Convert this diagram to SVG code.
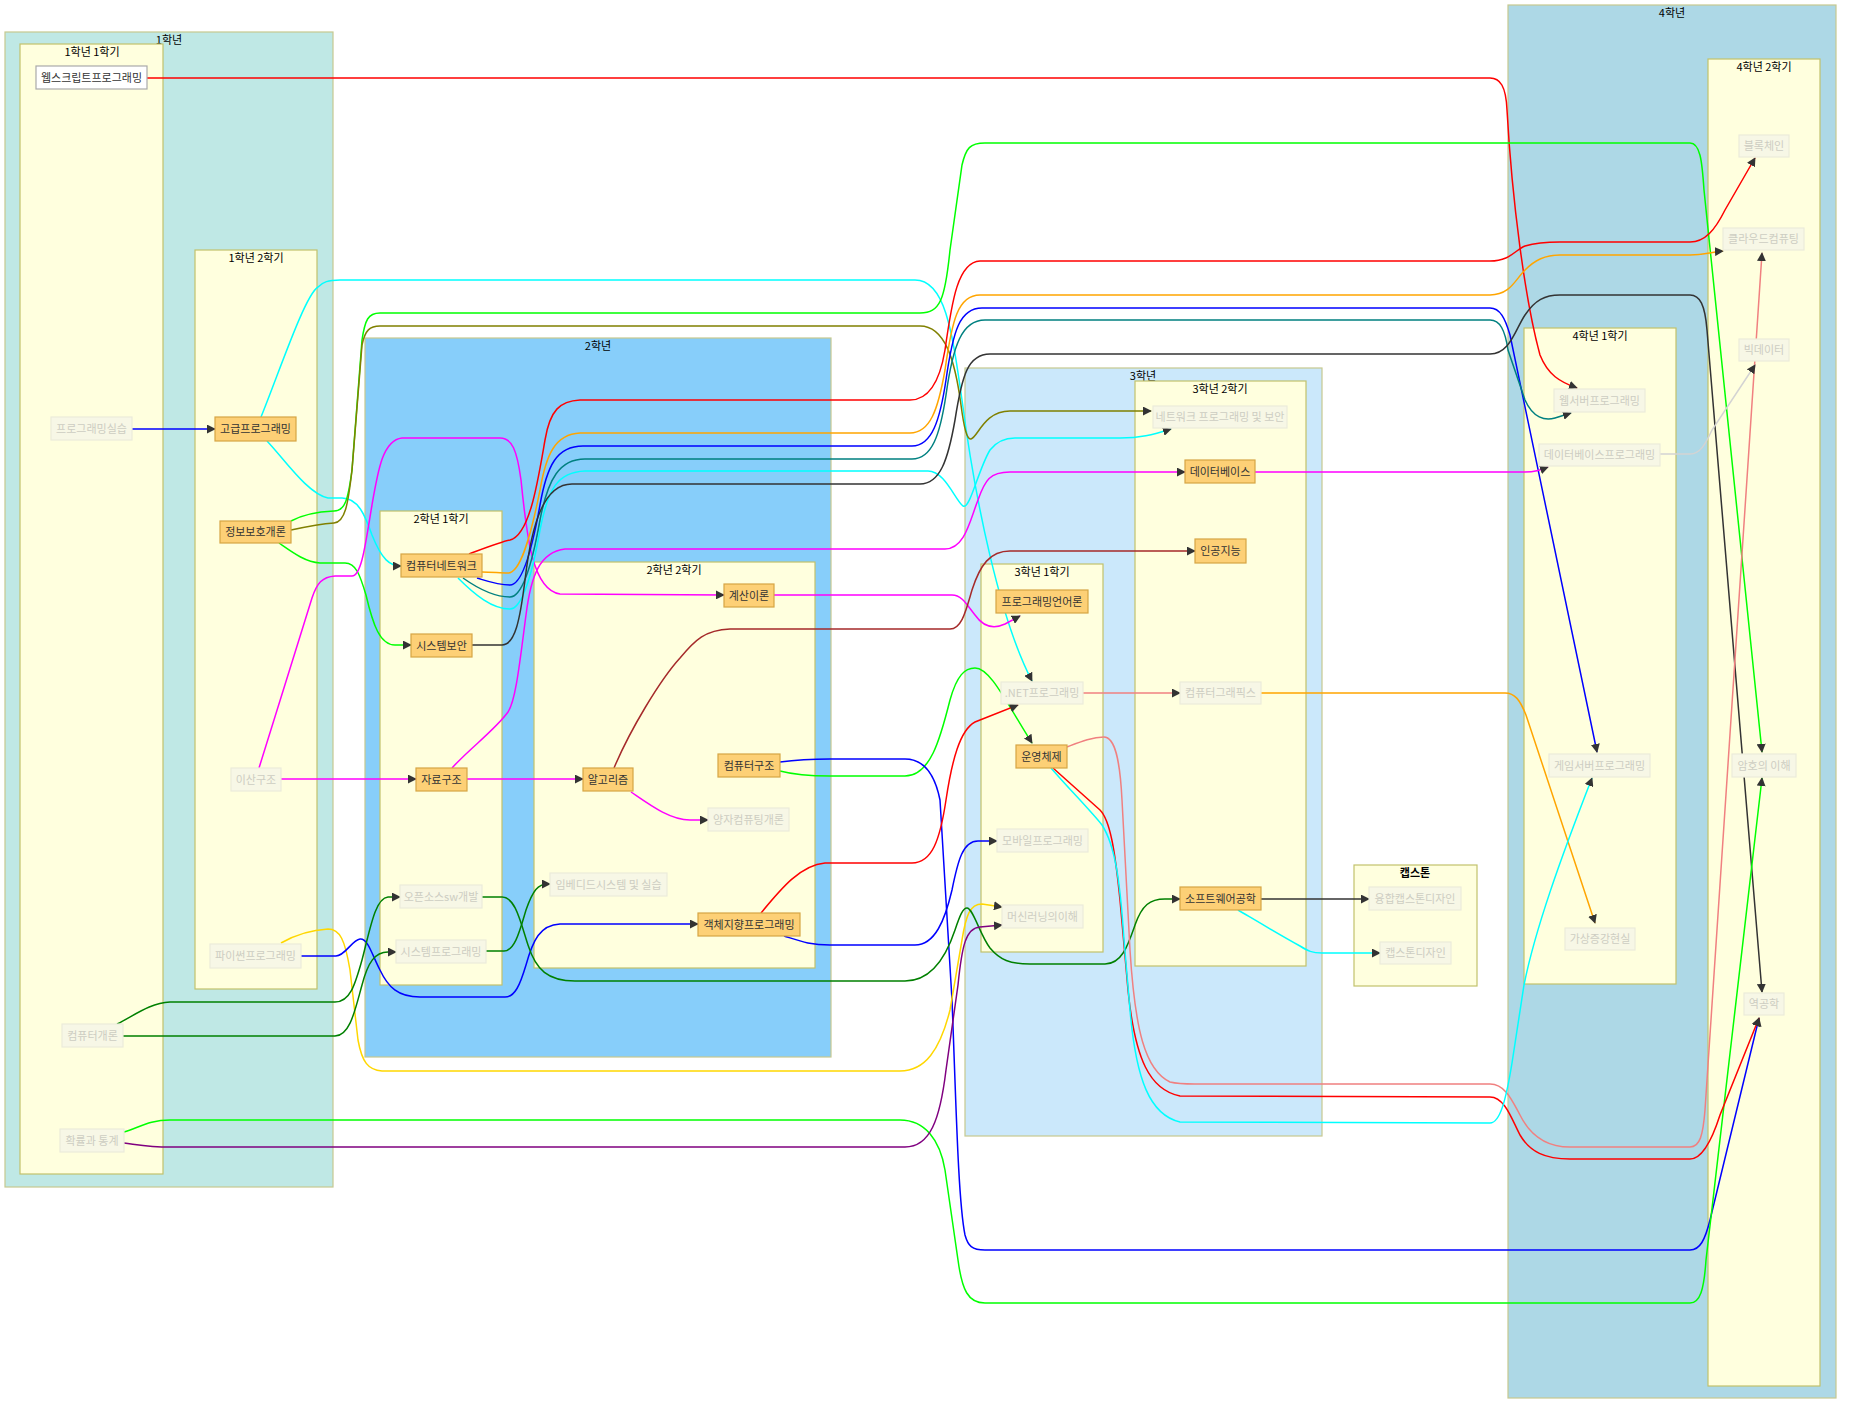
<svg xmlns="http://www.w3.org/2000/svg" width="1856" height="1407" viewBox="0 0 1856 1407">
<style>
text{font-family:"Noto Sans CJK KR","Noto Sans",sans-serif;font-size:11px;text-anchor:middle}
.yr{stroke:#c6c98f;stroke-width:1.2}
.sem{fill:#ffffde;stroke:#c2c26c;stroke-width:1.2}
.ct{fill:#000}
.hi rect{fill:#fdd076;stroke:#d6a544;stroke-width:1.2}
.hi text{fill:#333}
.fd rect{fill:#f7f7e6;stroke:#ebebda;stroke-width:1.2}
.fd text{fill:#cdcdc2}
.df rect{fill:#fff;stroke:#aaa;stroke-width:1.2}
.df text{fill:#333}
.e path{fill:none;stroke-width:1.5;marker-end:url(#arr)}
</style>
<defs>
<marker id="arr" viewBox="0 0 10 10" refX="9" refY="5" markerWidth="9" markerHeight="9" markerUnits="userSpaceOnUse" orient="auto">
<path d="M0,0 L10,5 L0,10 z" fill="#333"/>
</marker>
</defs>
<rect width="1856" height="1407" fill="#fff"/>

<g id="clusters">
<g id="c-y1"><rect class="yr" x="5" y="32" width="328" height="1155" fill="#bfe8e5"/><text class="ct" x="169" y="44">1학년</text></g>
<g id="c-y1s1"><rect class="sem" x="20" y="44" width="143" height="1130"/><text class="ct" x="92" y="56">1학년 1학기</text></g>
<g id="c-y1s2"><rect class="sem" x="195" y="250" width="122" height="739"/><text class="ct" x="256" y="262">1학년 2학기</text></g>
<g id="c-y2"><rect class="yr" x="365" y="338" width="466" height="719" fill="#87cefa"/><text class="ct" x="598" y="350">2학년</text></g>
<g id="c-y2s1"><rect class="sem" x="380" y="511" width="122" height="474"/><text class="ct" x="441" y="523">2학년 1학기</text></g>
<g id="c-y2s2"><rect class="sem" x="534" y="562" width="281" height="406"/><text class="ct" x="674" y="574">2학년 2학기</text></g>
<g id="c-y3"><rect class="yr" x="965" y="368" width="357" height="768" fill="#cbe8fb"/><text class="ct" x="1143" y="380">3학년</text></g>
<g id="c-y3s1"><rect class="sem" x="981" y="564" width="122" height="388"/><text class="ct" x="1042" y="576">3학년 1학기</text></g>
<g id="c-y3s2"><rect class="sem" x="1135" y="381" width="171" height="585"/><text class="ct" x="1220" y="393">3학년 2학기</text></g>
<g id="c-cap"><rect class="sem" x="1354" y="865" width="123" height="121"/><text class="ct" x="1415" y="877" font-weight="bold">캡스톤</text></g>
<g id="c-y4"><rect class="yr" x="1508" y="5" width="328" height="1393" fill="#add8e6"/><text class="ct" x="1672" y="17">4학년</text></g>
<g id="c-y4s1"><rect class="sem" x="1524" y="328" width="152" height="656"/><text class="ct" x="1600" y="340">4학년 1학기</text></g>
<g id="c-y4s2"><rect class="sem" x="1708" y="59" width="112" height="1327"/><text class="ct" x="1764" y="71">4학년 2학기</text></g>
</g>

<g id="edges" class="e">
<path stroke="#ff0000" d="M147,78 L1490,78 C1500,78 1506,86 1507,110 C1512,200 1525,300 1540,355 C1548,375 1560,382 1577,388"/>
<path stroke="#0000ff" d="M132,429 L215,429"/>
<path stroke="#00ffff" d="M267,441 C285,460 308,494 328,498 L342,498 C358,498 365,515 372,535 C382,560 390,566 401,566"/>
<path stroke="#00ffff" d="M261,417 C280,370 305,295 318,287 C323,282 328,280 340,280 L915,280 C945,280 952,330 962,400 C975,500 1000,620 1032,681"/>
<path stroke="#00ff00" d="M291,521 C300,516 312,512 334,511 C345,511 348,500 352,470 L362,340 C365,320 368,313 380,313 L920,313 C940,313 945,300 950,250 L962,165 C966,148 970,143 985,143 L1690,143 C1700,143 1702,160 1704,190 L1762,752"/>
<path stroke="#808000" d="M291,530 C305,527 320,524 334,523 C345,522 348,505 352,470 L362,345 C365,330 370,326 380,326 L920,326 C945,326 955,360 961,405 C964,428 967,440 971,439 C978,437 984,411 1010,411 L1151,411"/>
<path stroke="#00ff00" d="M279,543 C292,552 305,562 320,563 L345,563 C356,563 360,575 366,595 C373,625 380,645 395,645 L411,645"/>
<path stroke="#ff00ff" d="M259,768 L312,598 C317,583 322,577 335,576 L352,576 C362,576 366,540 372,505 C378,470 383,440 402,438 L500,438 C512,438 517,450 521,480 C527,540 533,590 560,594 L724,595"/>
<path stroke="#ff00ff" d="M281,779 L416,779"/>
<path stroke="#ff00ff" d="M467,779 L583,779"/>
<path stroke="#ff00ff" d="M452,768 C470,748 495,730 508,712 C516,700 520,660 526,615 C531,575 540,552 565,549 L945,549 C965,549 970,520 978,500 C985,480 990,472 1010,472 L1185,472"/>
<path stroke="#ff00ff" d="M774,595 L952,595 C962,595 967,605 975,615 C982,625 992,630 1005,624 L1020,616"/>
<path stroke="#a52a2a" d="M614,768 C630,730 660,680 680,658 C695,640 705,630 730,629 L950,629 C962,629 966,610 972,590 C980,565 990,551 1010,551 L1195,551"/>
<path stroke="#ff00ff" d="M631,792 C650,805 670,820 690,820 L708,820"/>
<path stroke="#00ff00" d="M780,771 C795,775 810,776 830,776 L905,776 C930,776 940,740 950,700 C957,675 965,668 975,668 C990,668 1005,700 1032,743"/>
<path stroke="#0000ff" d="M780,762 C795,760 810,759 830,759 L905,759 C925,759 935,775 940,800 L952,1000 C956,1100 958,1200 965,1235 C968,1246 972,1250 985,1250 L1690,1250 C1700,1250 1705,1240 1710,1220 L1759,1018"/>
<path stroke="#ff0000" d="M469,554 C485,548 500,542 510,540 C530,535 538,480 545,440 C550,410 560,401 580,400 L910,400 C930,400 940,380 945,350 C952,300 958,262 980,261 L1490,261 C1510,261 1515,250 1525,246 C1535,243 1545,242 1560,242 L1690,242 C1705,242 1715,230 1725,210 L1755,158"/>
<path stroke="#ffa500" d="M482,572 C492,572 500,573 508,573 C520,573 530,540 540,490 C546,455 555,434 580,433 L910,433 C930,433 938,410 945,370 C952,320 958,295 980,295 L1490,295 C1510,295 1515,280 1525,270 C1535,260 1545,255 1560,255 L1690,255 C1705,255 1710,252 1723,251"/>
<path stroke="#0000ff" d="M477,578 C490,582 498,585 510,585 C522,585 532,550 540,505 C547,465 557,446 583,446 L912,446 C932,446 940,420 946,380 C953,330 960,308 982,308 L1490,308 C1500,308 1505,318 1510,335 L1597,752"/>
<path stroke="#008080" d="M463,578 C480,590 495,597 510,597 C522,597 532,565 540,520 C548,478 560,459 585,459 L912,459 C932,459 940,435 946,395 C953,345 962,320 985,320 L1490,320 C1500,320 1505,330 1508,350 L1525,400 C1533,418 1545,421 1555,418 L1571,413"/>
<path stroke="#00ffff" d="M458,578 C475,595 492,609 510,609 C522,609 532,575 540,530 C548,488 558,472 585,471 L928,471 C945,471 955,500 963,506 C970,510 978,470 990,450 C997,441 1005,438 1015,438 L1120,438 C1140,438 1152,435 1171,429"/>
<path stroke="#333333" d="M472,645 L502,645 C515,645 520,620 525,580 C532,520 545,484 572,484 L920,484 C940,484 948,460 955,420 C962,375 968,354 990,354 L1490,354 C1510,354 1515,330 1525,315 C1535,300 1545,295 1560,295 L1690,295 C1700,295 1705,305 1707,330 L1762,992"/>
<path stroke="#ffd700" d="M281,943 C295,935 310,930 328,929 C340,929 345,940 350,970 L358,1040 C362,1062 368,1070 382,1071 L900,1071 C925,1071 940,1050 950,1010 L962,940 C966,915 970,904 982,904 L1002,907"/>
<path stroke="#0000ff" d="M301,956 L336,956 C345,956 352,940 360,939 C368,938 372,955 380,970 C388,987 398,997 420,997 L505,997 C515,997 520,985 526,965 C533,940 540,925 560,924 L698,924"/>
<path stroke="#008000" d="M117,1024 C135,1015 150,1003 170,1002 L335,1002 C350,1002 355,985 362,960 C370,930 375,898 388,897 L400,897"/>
<path stroke="#008000" d="M123,1036 L335,1036 C350,1036 355,1010 362,985 C368,962 375,952 388,952 L396,952"/>
<path stroke="#008000" d="M482,897 L502,897 C515,897 520,920 528,945 C536,970 548,981 575,981 L905,981 C930,981 945,960 955,930 C960,915 963,908 967,908 C973,908 980,935 990,948 C1000,960 1010,964 1030,964 L1105,964 C1122,964 1128,945 1135,925 C1142,905 1150,899 1165,899 L1180,899"/>
<path stroke="#008000" d="M486,951 L504,951 C515,951 520,930 526,910 C533,890 538,884 548,884 L550,884"/>
<path stroke="#00ff00" d="M124,1132 C140,1127 150,1120 170,1120 L900,1120 C925,1120 940,1140 945,1170 L958,1260 C962,1290 968,1303 985,1303 L1690,1303 C1700,1303 1704,1290 1706,1260 L1762,778"/>
<path stroke="#800080" d="M124,1143 C140,1145 150,1147 170,1147 L905,1147 C930,1147 940,1120 946,1070 L958,985 C962,945 966,928 980,927 L1002,925"/>
<path stroke="#ff0000" d="M761,913 C780,890 800,865 825,863 L912,863 C932,863 940,840 946,800 C952,760 960,730 975,722 L1018,705"/>
<path stroke="#0000ff" d="M784,936 C800,941 810,945 830,945 L915,945 C935,945 945,920 952,890 C958,860 963,841 978,841 L997,841"/>
<path stroke="#f08080" d="M1083,693 L1180,693"/>
<path stroke="#ffa500" d="M1261,693 L1505,693 C1515,693 1520,700 1526,715 L1595,923"/>
<path stroke="#f08080" d="M1067,747 C1080,742 1092,737 1104,737 C1115,737 1120,760 1122,800 L1130,950 C1135,1030 1145,1070 1170,1082 C1178,1084 1185,1084 1195,1084 L1490,1084 C1505,1084 1512,1100 1520,1115 C1530,1135 1545,1147 1570,1147 L1690,1147 C1700,1147 1703,1135 1705,1110 L1762,253"/>
<path stroke="#ff0000" d="M1053,768 L1100,810 C1110,820 1115,850 1120,900 L1128,990 C1135,1060 1150,1090 1180,1096 L1490,1097 C1505,1097 1512,1120 1520,1135 C1530,1152 1545,1159 1570,1159 L1690,1159 C1702,1159 1712,1140 1720,1115 L1759,1018"/>
<path stroke="#00ffff" d="M1051,768 C1070,790 1090,810 1102,825 C1115,845 1120,880 1124,940 L1130,1010 C1136,1080 1150,1115 1180,1122 L1490,1123 C1500,1123 1506,1100 1512,1063 L1524,985 C1535,930 1560,860 1592,778"/>
<path stroke="#333333" d="M1261,899 L1369,899"/>
<path stroke="#00ffff" d="M1238,910 C1255,920 1280,935 1300,946 C1308,951 1312,953 1322,953 L1380,953"/>
<path stroke="#ff00ff" d="M1255,472 L1525,472 C1535,472 1540,470 1548,467"/>
<path stroke="#d3d3d3" d="M1660,454 L1690,454 C1700,454 1705,445 1712,430 L1755,365"/>
</g>

<g id="nodes">
<g id="n-webscript" class="df"><rect x="36" y="66" width="111" height="23"/><text x="91.5" y="81.5">웹스크립트프로그래밍</text></g>
<g id="n-proglab" class="fd"><rect x="51" y="417" width="81" height="23"/><text x="91.5" y="432.5">프로그래밍실습</text></g>
<g id="n-intro" class="fd"><rect x="62" y="1024" width="61" height="23"/><text x="92.5" y="1039.5">컴퓨터개론</text></g>
<g id="n-prob" class="fd"><rect x="60" y="1129" width="64" height="23"/><text x="92" y="1144.5">확률과 통계</text></g>
<g id="n-advprog" class="hi"><rect x="215" y="417" width="81" height="24"/><text x="255.5" y="433">고급프로그래밍</text></g>
<g id="n-infosec" class="hi"><rect x="220" y="521" width="71" height="22"/><text x="255.5" y="536">정보보호개론</text></g>
<g id="n-discrete" class="fd"><rect x="231" y="768" width="50" height="23"/><text x="256" y="783.5">이산구조</text></g>
<g id="n-python" class="fd"><rect x="210" y="944" width="91" height="24"/><text x="255.5" y="960">파이썬프로그래밍</text></g>
<g id="n-network" class="hi"><rect x="401" y="554" width="81" height="23"/><text x="441.5" y="569.5">컴퓨터네트워크</text></g>
<g id="n-syssec" class="hi"><rect x="411" y="634" width="61" height="23"/><text x="441.5" y="649.5">시스템보안</text></g>
<g id="n-datastruct" class="hi"><rect x="416" y="768" width="51" height="23"/><text x="441.5" y="783.5">자료구조</text></g>
<g id="n-oss" class="fd"><rect x="400" y="885" width="82" height="23"/><text x="441" y="900.5">오픈소스sw개발</text></g>
<g id="n-sysprog" class="fd"><rect x="396" y="940" width="90" height="23"/><text x="441" y="955.5">시스템프로그래밍</text></g>
<g id="n-theory" class="hi"><rect x="724" y="584" width="50" height="23"/><text x="749" y="599.5">계산이론</text></g>
<g id="n-algo" class="hi"><rect x="583" y="768" width="50" height="23"/><text x="608" y="783.5">알고리즘</text></g>
<g id="n-arch" class="hi"><rect x="718" y="754" width="62" height="23"/><text x="749" y="769.5">컴퓨터구조</text></g>
<g id="n-quantum" class="fd"><rect x="708" y="808" width="81" height="23"/><text x="748.5" y="823.5">양자컴퓨팅개론</text></g>
<g id="n-embedded" class="fd"><rect x="550" y="873" width="117" height="23"/><text x="608.5" y="888.5">임베디드시스템 및 실습</text></g>
<g id="n-oop" class="hi"><rect x="698" y="913" width="102" height="23"/><text x="749" y="928.5">객체지향프로그래밍</text></g>
<g id="n-pl" class="hi"><rect x="996" y="590" width="92" height="23"/><text x="1042" y="605.5">프로그래밍언어론</text></g>
<g id="n-dotnet" class="fd"><rect x="1001" y="682" width="82" height="22"/><text x="1042" y="697">.NET프로그래밍</text></g>
<g id="n-os" class="hi"><rect x="1016" y="745" width="51" height="23"/><text x="1041.5" y="760.5">운영체제</text></g>
<g id="n-mobile" class="fd"><rect x="997" y="829" width="91" height="23"/><text x="1042.5" y="844.5">모바일프로그래밍</text></g>
<g id="n-ml" class="fd"><rect x="1002" y="905" width="81" height="23"/><text x="1042.5" y="920.5">머신러닝의이해</text></g>
<g id="n-netprog" class="fd"><rect x="1153" y="406" width="134" height="22"/><text x="1220" y="421">네트워크 프로그래밍 및 보안</text></g>
<g id="n-db" class="hi"><rect x="1185" y="460" width="70" height="23"/><text x="1220" y="475.5">데이터베이스</text></g>
<g id="n-ai" class="hi"><rect x="1195" y="539" width="51" height="24"/><text x="1220.5" y="555">인공지능</text></g>
<g id="n-graphics" class="fd"><rect x="1180" y="682" width="81" height="22"/><text x="1220.5" y="697">컴퓨터그래픽스</text></g>
<g id="n-se" class="hi"><rect x="1180" y="887" width="81" height="23"/><text x="1220.5" y="902.5">소프트웨어공학</text></g>
<g id="n-capfusion" class="fd"><rect x="1369" y="887" width="92" height="23"/><text x="1415" y="902.5">융합캡스톤디자인</text></g>
<g id="n-capdesign" class="fd"><rect x="1380" y="942" width="71" height="22"/><text x="1415.5" y="957">캡스톤디자인</text></g>
<g id="n-webserver" class="fd"><rect x="1554" y="389" width="91" height="23"/><text x="1599.5" y="404.5">웹서버프로그래밍</text></g>
<g id="n-dbprog" class="fd"><rect x="1539" y="444" width="121" height="22"/><text x="1599.5" y="459">데이터베이스프로그래밍</text></g>
<g id="n-gameserver" class="fd"><rect x="1549" y="754" width="101" height="23"/><text x="1599.5" y="769.5">게임서버프로그래밍</text></g>
<g id="n-vr" class="fd"><rect x="1565" y="928" width="70" height="22"/><text x="1600" y="943">가상증강현실</text></g>
<g id="n-blockchain" class="fd"><rect x="1739" y="135" width="50" height="22"/><text x="1764" y="150">블록체인</text></g>
<g id="n-cloud" class="fd"><rect x="1723" y="228" width="81" height="22"/><text x="1763.5" y="243">클라우드컴퓨팅</text></g>
<g id="n-bigdata" class="fd"><rect x="1739" y="339" width="50" height="22"/><text x="1764" y="354">빅데이터</text></g>
<g id="n-crypto" class="fd"><rect x="1732" y="754" width="64" height="23"/><text x="1764" y="769.5">암호의 이해</text></g>
<g id="n-reverse" class="fd"><rect x="1744" y="993" width="40" height="22"/><text x="1764" y="1008">역공학</text></g>
</g>
</svg>
